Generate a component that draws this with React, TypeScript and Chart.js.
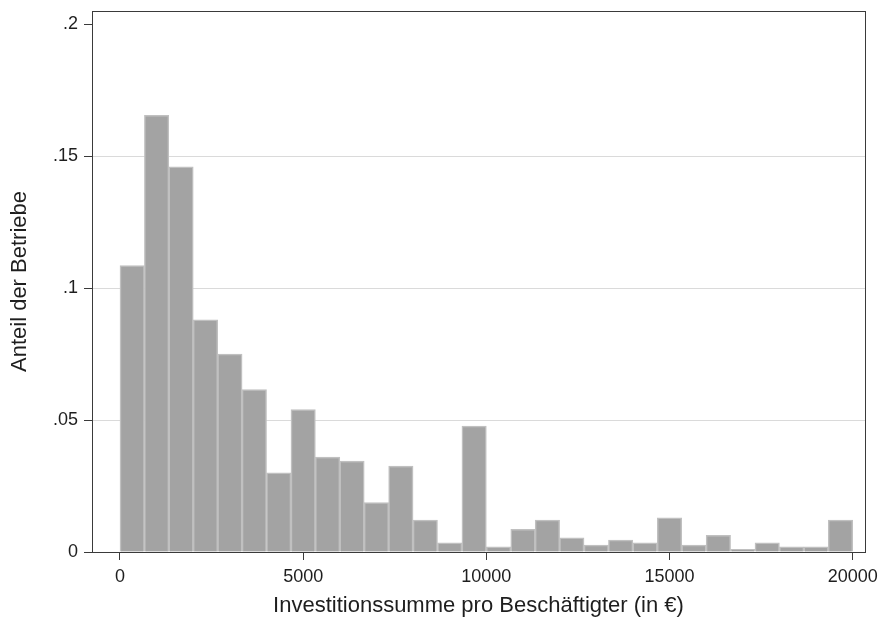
import React, { useEffect, useRef } from 'react';
import { Chart, registerables } from 'chart.js';

Chart.register(...registerables);

// Bin centres (30 bins of width 666.67 from 0 to 20000)
const binCenters = [
  333.3, 1000, 1666.7, 2333.3, 3000, 3666.7, 4333.3, 5000, 5666.7, 6333.3,
  7000, 7666.7, 8333.3, 9000, 9666.7, 10333.3, 11000, 11666.7, 12333.3, 13000,
  13666.7, 14333.3, 15000, 15666.7, 16333.3, 17000, 17666.7, 18333.3, 19000, 19666.7,
];

const shares = [
  0.1086, 0.1655, 0.146, 0.088, 0.075, 0.0616, 0.03, 0.054, 0.036, 0.0345,
  0.0187, 0.0326, 0.0121, 0.0035, 0.0477, 0.002, 0.0086, 0.0121, 0.0054, 0.0026,
  0.0045, 0.0035, 0.013, 0.0026, 0.0063, 0.001, 0.0035, 0.002, 0.002, 0.0121,
];

const xTicks = [0, 5000, 10000, 15000, 20000];
const yTicks = [0, 0.05, 0.1, 0.15, 0.2];
const yTickLabels = ['0', '.05', '.1', '.15', '.2'];
const gridValues = [0.05, 0.1, 0.15];

const xTitle = 'Investitionssumme pro Beschäftigter (in €)';
const yTitle = 'Anteil der Betriebe';

const FONT = '"Liberation Sans", Arial, sans-serif';
const TEXT = '#1e1e1e';
const AXIS = '#3a3a3a';

export default function App() {
  const ref = useRef<HTMLCanvasElement | null>(null);

  useEffect(() => {
    document.body.style.margin = '0';
    const canvas = ref.current;
    if (!canvas) return;

    const boxPlugin = {
      id: 'boxPlugin',
      afterDraw(chart: any) {
        const { ctx, chartArea } = chart;
        ctx.save();
        ctx.strokeStyle = AXIS;
        ctx.lineWidth = 1;
        ctx.strokeRect(
          Math.round(chartArea.left) + 0.5,
          Math.round(chartArea.top) + 0.5,
          Math.round(chartArea.right - chartArea.left),
          Math.round(chartArea.bottom - chartArea.top)
        );
        ctx.restore();
      },
    };

    const chart = new Chart(canvas, {
      type: 'bar',
      data: {
        datasets: [
          {
            data: binCenters.map((x, i) => ({ x, y: shares[i] })),
            backgroundColor: '#a3a3a3',
            borderColor: '#c0c0c0',
            borderWidth: 1.5,
            barPercentage: 1,
            categoryPercentage: 1,
          },
        ],
      },
      options: {
        responsive: false,
        animation: false,
        devicePixelRatio: 1,
        layout: { padding: { top: 11, right: 15, left: 0, bottom: 0 } },
        plugins: {
          legend: { display: false },
          tooltip: { enabled: false },
        },
        scales: {
          x: {
            type: 'linear',
            min: -764,
            max: 20336,
            offset: false,
            afterBuildTicks: (scale: any) => {
              scale.ticks = xTicks.map((v) => ({ value: v }));
            },
            afterFit: (scale: any) => {
              scale.height = 69;
              scale.paddingLeft = 0;
              scale.paddingRight = 0;
            },
            ticks: {
              color: TEXT,
              font: { family: FONT, size: 18 },
              padding: 6,
              maxRotation: 0,
              autoSkip: false,
              callback: (v: any) => String(v),
            },
            grid: {
              offset: false,
              drawOnChartArea: false,
              drawTicks: true,
              tickLength: 8,
              tickColor: AXIS,
              color: AXIS,
            },
            border: { display: true, color: AXIS, width: 1 },
            title: {
              display: true,
              text: xTitle,
              color: TEXT,
              font: { family: FONT, size: 22 },
              padding: { top: 0, bottom: 2 },
            },
          },
          y: {
            type: 'linear',
            min: 0,
            max: 0.2051,
            afterBuildTicks: (scale: any) => {
              scale.ticks = yTicks.map((v) => ({ value: v }));
            },
            afterFit: (scale: any) => {
              scale.width = 92;
              scale.paddingTop = 0;
              scale.paddingBottom = 0;
            },
            ticks: {
              color: TEXT,
              font: { family: FONT, size: 18 },
              padding: 6,
              autoSkip: false,
              callback: (v: any) => {
                const idx = yTicks.findIndex((t) => Math.abs(t - Number(v)) < 1e-9);
                return idx >= 0 ? yTickLabels[idx] : '';
              },
            },
            grid: {
              drawOnChartArea: true,
              drawTicks: true,
              tickLength: 8,
              tickColor: AXIS,
              lineWidth: 1,
              color: (ctx: any) => {
                const v = ctx.tick ? ctx.tick.value : null;
                return v !== null && gridValues.some((g) => Math.abs(g - v) < 1e-9)
                  ? '#dadada'
                  : 'rgba(0,0,0,0)';
              },
            },
            border: { display: true, color: AXIS, width: 1 },
            title: {
              display: true,
              text: yTitle,
              color: TEXT,
              font: { family: FONT, size: 22 },
              padding: { top: 7, bottom: 0 },
            },
          },
        },
      },
      plugins: [boxPlugin],
    } as any);

    return () => chart.destroy();
  }, []);

  return (
    <div style={{ width: 880, height: 621, background: '#fff' }}>
      <canvas ref={ref} width={880} height={621} style={{ display: 'block' }} />
    </div>
  );
}
